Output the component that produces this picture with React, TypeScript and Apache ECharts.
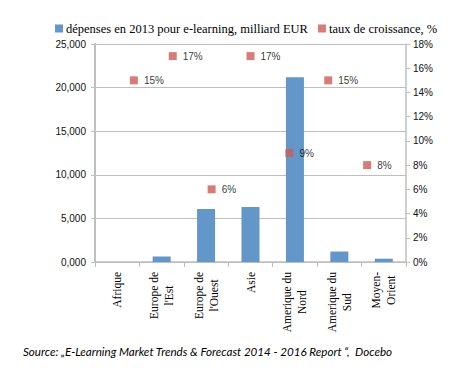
import React, { useEffect, useRef } from "react";
import * as echarts from "echarts";

const categories = [
  "Afrique",
  "Europe de\nl'Est",
  "Europe de\nl'Ouest",
  "Asie",
  "Amerique du\nNord",
  "Amerique du\nSud",
  "Moyen-\nOrient",
];
const spending = [0, 630, 6070, 6300, 21200, 1200, 380];
const growth = [15, 17, 6, 17, 9, 15, 8];
const leftTicks = { min: 0, max: 25000, interval: 5000 };
const rightTicks = { min: 0, max: 18, interval: 2 };
const seriesNames = [
  "dépenses en 2013 pour e-learning, milliard EUR",
  "taux de croissance, %",
];
const sourceText =
  "Source: „E-Learning Market Trends & Forecast 2014 - 2016 Report “,  Docebo";

export default function App() {
  const ref = useRef<HTMLDivElement>(null);
  useEffect(() => {
    document.body.style.margin = "0";
    if (!ref.current) return;
    const chart = echarts.init(ref.current, undefined, { renderer: "svg" });
    const gray = "#bfbfbf";
    const tickFont = { fontFamily: "Liberation Sans", fontSize: 10, color: "#111" };
    chart.setOption({
      animation: false,
      backgroundColor: "#fff",
      legend: {
        left: 50,
        top: 17,
        itemWidth: 8,
        itemHeight: 8,
        itemGap: 10,
        icon: "rect",
        data: seriesNames,
        textStyle: { fontFamily: "Liberation Serif", fontSize: 12.5, color: "#000", padding: [0, 0, 0, -2] },
      },
      grid: { left: 95, right: 51, top: 44, bottom: 122 },
      xAxis: [
        {
          type: "category",
          data: categories,
          axisLine: { lineStyle: { color: gray, width: 1.5 } },
          axisTick: { show: true, length: 5, lineStyle: { color: gray } },
          axisLabel: {
            rotate: 90,
            margin: 10,
            interval: 0,
            formatter: (v: string) =>
              v
                .split("\n")
                .map((l) => `{c|${l}}`)
                .join("\n"),
            rich: {
              c: {
                align: "center",
                fontFamily: "Liberation Serif",
                fontSize: 11.5,
                lineHeight: 15,
                color: "#000",
              },
            },
          },
        },
        { type: "value", min: 0, max: 8, show: false },
      ],
      yAxis: [
        {
          type: "value",
          ...leftTicks,
          axisLine: { show: true, lineStyle: { color: gray, width: 2 } },
          axisTick: { show: true, length: 4, lineStyle: { color: gray } },
          axisLabel: {
            ...tickFont,
            margin: 9,
            formatter: (v: number) => (v === 0 ? "0,000" : `${v / 1000},000`),
          },
          splitLine: { lineStyle: { color: gray, width: 1.2 } },
        },
        {
          type: "value",
          position: "right",
          ...rightTicks,
          axisLine: { show: true, lineStyle: { color: gray, width: 1.5 } },
          axisTick: { show: true, length: 4, lineStyle: { color: gray } },
          axisLabel: { ...tickFont, margin: 7, formatter: "{value}%" },
          splitLine: { show: false },
        },
      ],
      series: [
        {
          name: seriesNames[0],
          type: "bar",
          xAxisIndex: 0,
          yAxisIndex: 0,
          barWidth: 18,
          data: spending,
          itemStyle: { color: "#6396c9" },
        },
        {
          name: seriesNames[1],
          type: "scatter",
          xAxisIndex: 1,
          yAxisIndex: 1,
          symbol: "rect",
          symbolSize: 8,
          data: growth.map((g, i) => [i + 1, g]),
          itemStyle: { color: "#cc5c59" },
          label: {
            show: true,
            position: "right",
            distance: 6,
            formatter: (p: any) => `${p.value[1]}%`,
            fontFamily: "Liberation Sans",
            fontSize: 10,
            color: "#000",
          },
        },
      ],
      graphic: [
        {
          type: "text",
          left: 23,
          top: 345,
          style: {
            text: sourceText,
            fontFamily: "Lato",
            fontStyle: "italic",
            fontSize: 11.6,
            fill: "#000",
          },
        },
      ],
    });
    return () => chart.dispose();
  }, []);
  return <div ref={ref} style={{ width: 457, height: 384 }} />;
}
